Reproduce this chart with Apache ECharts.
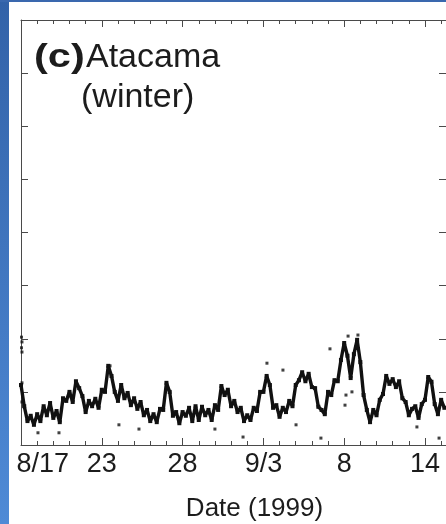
<!DOCTYPE html>
<html>
<head>
<meta charset="utf-8">
<script src="https://cdn.jsdelivr.net/npm/echarts@6/dist/echarts.min.js"></script>
<style>
  html, body { margin: 0; padding: 0; background: #fff; }
  #chart { width: 446px; height: 524px; }
</style>
</head>
<body>
<div id="chart"></div>
<script>
// Atacama winter record, Aug 17 - Sep 14 1999; x in day units along the date axis
const dateLabels = ['8/17', '23', '28', '9/3', '8', '14'];
const labelValues = [1.35, 5, 10, 15, 20, 25];

// regular sampling: one value every sampleStep days from the start of the axis
const sampleStep = 0.2;
const signal = [
  1.13, 0.73, 0.45, 0.55, 0.38, 0.58, 0.45, 0.73, 0.56, 0.79,
  0.51, 0.64, 0.43, 0.88, 0.83, 1.00, 0.81, 1.20, 1.07, 0.92,
  0.62, 0.83, 0.73, 0.87, 0.70, 1.04, 1.00, 1.49, 1.30, 1.00,
  0.83, 1.13, 0.88, 0.98, 0.75, 0.88, 0.68, 0.81, 0.56, 0.66,
  0.45, 0.58, 0.43, 0.68, 0.66, 1.17, 1.00, 0.55, 0.62, 0.41,
  0.62, 0.55, 0.70, 0.45, 0.73, 0.47, 0.72, 0.56, 0.66, 0.47,
  0.75, 0.66, 1.11, 0.94, 1.04, 0.73, 0.83, 0.62, 0.70, 0.45,
  0.56, 0.47, 0.70, 0.64, 1.00, 1.00, 1.30, 1.13, 0.70, 0.75,
  0.53, 0.70, 0.62, 0.83, 0.73, 1.13, 1.22, 1.37, 1.20, 1.34,
  1.09, 1.07, 0.72, 0.66, 0.58, 1.00, 0.94, 1.22, 1.20, 1.60,
  1.92, 1.68, 1.26, 1.71, 1.98, 1.56, 0.94, 0.66, 0.43, 0.66,
  0.56, 0.85, 0.96, 1.30, 1.15, 1.24, 1.09, 1.20, 0.88, 0.81,
  0.56, 0.68, 0.73, 0.51, 0.77, 0.85, 1.28, 1.19, 0.77, 0.58,
  0.85, 0.70
];

// isolated readings away from the main trace
const strayX = [0.03, 0.06, 0.03, 0.06, 0.06, 0.06, 1.05, 2.35, 5.51, 6.06, 7.30, 12.00, 13.74,
                15.22, 16.21, 17.02, 18.56, 19.12, 20.05, 20.11, 20.24, 20.48, 20.85, 24.50, 25.87];
const strayY = [2.03, 1.94, 1.83, 1.75, 1.17, 0.81, 0.23, 0.23, 1.49, 0.38, 0.30, 0.30, 0.15,
                1.54, 1.41, 0.38, 0.13, 1.81, 0.75, 0.94, 2.05, 1.00, 2.07, 0.34, 0.13];

const traceData = signal.map((v, i) => [+(i * sampleStep).toFixed(2), v]);
const strayData = strayX.map((x, i) => [x, strayY[i]]);

const X_MIN = 0, X_MAX = 26.3;
const FONT = '"Liberation Sans", Arial, Helvetica, sans-serif';
const INK = '#1c1c1c';
const AXIS = '#4a4a4a';
const PLOT = { left: 21, top: 20, right: 0, bottom: 79, outerBoundsMode: 'none' };

// frame ticks along the dates: 5-day major, daily minor, pointing into the plot
function dateTickAxis(position) {
  return {
    gridIndex: 0,
    type: 'value',
    position: position,
    min: X_MIN,
    max: X_MAX,
    interval: 5,
    axisLine: { show: true, onZero: false, lineStyle: { color: AXIS } },
    splitLine: { show: false },
    axisLabel: { show: false },
    axisTick: { show: true, inside: true, length: 7, lineStyle: { color: AXIS, width: 1 } },
    minorTick: { show: true, splitNumber: 5, length: 4, lineStyle: { color: AXIS, width: 1 } }
  };
}

// date labels and axis title, on an overlaid copy of the date scale
const dateLabelAxis = {
  gridIndex: 1,
  type: 'value',
  position: 'bottom',
  min: X_MIN,
  max: X_MAX,
  axisLine: { show: false, onZero: false },
  axisTick: { show: false },
  splitLine: { show: false },
  axisLabel: {
    show: true,
    customValues: labelValues,
    margin: 6,
    fontFamily: FONT,
    fontSize: 27,
    color: INK,
    formatter: function (v) {
      const k = labelValues.findIndex(p => Math.abs(p - v) < 1e-6);
      return k >= 0 ? dateLabels[k] : '';
    }
  },
  name: 'Date (1999)',
  nameLocation: 'middle',
  nameGap: 51,
  nameTextStyle: { fontFamily: FONT, fontSize: 26, color: INK, padding: [0, 0, 0, 42] }
};

function levelAxis(gridIndex, position) {
  return {
    gridIndex: gridIndex,
    type: 'value',
    position: position,
    min: 0,
    max: 8,
    interval: 1,
    axisLine: { show: true, onZero: false, lineStyle: { color: AXIS } },
    splitLine: { show: false },
    axisLabel: { show: true, formatter: () => '' },
    axisTick: { show: true, inside: true, length: 7, lineStyle: { color: AXIS, width: 1 } }
  };
}

const chart = echarts.init(document.getElementById('chart'));

chart.setOption({
  animation: false,
  backgroundColor: '#ffffff',
  grid: [Object.assign({}, PLOT), Object.assign({}, PLOT)],
  xAxis: [dateTickAxis('bottom'), dateTickAxis('top'), dateLabelAxis],
  yAxis: [levelAxis(0, 'left'), levelAxis(1, 'right')],
  graphic: [
    {
      type: 'rect',
      left: 0, top: 0, z: 10,
      shape: { width: 9, height: 524 },
      style: {
        fill: new echarts.graphic.LinearGradient(0, 0, 0, 1, [
          { offset: 0, color: '#3262a8' },
          { offset: 1, color: '#4f8ad6' }
        ])
      }
    },
    {
      type: 'rect',
      left: 0, top: 0, z: 10,
      shape: { width: 446, height: 2 },
      style: { fill: '#3a68ae' }
    },
    {
      type: 'text',
      x: 34, y: 41, scaleX: 1.22, z: 20,
      style: {
        text: '(c)', fontFamily: FONT, fontSize: 34, fontWeight: 'bold',
        fill: INK, verticalAlign: 'top'
      }
    },
    {
      type: 'text',
      x: 86, y: 41, z: 20,
      style: {
        text: 'Atacama', fontFamily: FONT, fontSize: 34,
        fill: INK, verticalAlign: 'top'
      }
    },
    {
      type: 'text',
      x: 81, y: 81, z: 20,
      style: {
        text: '(winter)', fontFamily: FONT, fontSize: 34,
        fill: INK, verticalAlign: 'top'
      }
    }
  ],
  series: [
    {
      type: 'line',
      xAxisIndex: 0,
      yAxisIndex: 0,
      data: traceData,
      showSymbol: true,
      symbol: 'rect',
      symbolSize: 4,
      itemStyle: { color: '#111' },
      lineStyle: { color: '#111', width: 3.4 },
      z: 3
    },
    {
      type: 'scatter',
      xAxisIndex: 0,
      yAxisIndex: 0,
      data: strayData,
      symbol: 'rect',
      symbolSize: 3,
      itemStyle: { color: '#111' },
      z: 3
    }
  ]
});
</script>
</body>
</html>
